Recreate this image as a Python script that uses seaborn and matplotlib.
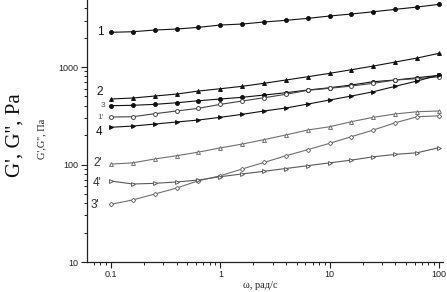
import numpy as np
import pandas as pd
import seaborn as sns
import matplotlib
matplotlib.use("Agg")
import matplotlib.pyplot as plt
from matplotlib.ticker import LogLocator, NullFormatter, FixedLocator, FixedFormatter

# frequencies, rad/s
omega = [0.1, 0.158, 0.251, 0.398, 0.631, 1.0, 1.58, 2.51, 3.98, 6.31,
         10.0, 15.8, 25.1, 39.8, 63.1, 100.0]

s1 = [2270, 2302, 2395, 2453, 2553, 2697, 2760, 2896, 3013, 3158, 3336, 3499, 3690, 3906, 4123, 4397]
s2 = [470, 481, 504, 528, 567, 599, 634, 681, 736, 795, 862, 938, 1024, 1125, 1237, 1382]
s3 = [401, 405, 414, 430, 451, 470, 489, 516, 545, 581, 613, 654, 707, 736, 777, 822]
s1p = [307, 309, 332, 354, 377, 414, 448, 484, 525, 577, 605, 638, 681, 736, 759, 795]
s4 = [241, 248, 260, 273, 286, 305, 327, 354, 380, 417, 459, 504, 558, 634, 719, 828]
s2p = [101, 104, 114, 123, 134, 148, 162, 180, 201, 226, 244, 275, 305, 330, 348, 354]
s3p = [39.1, 43.3, 49.8, 57.4, 68.2, 76.7, 89.9, 105, 123, 142, 165, 193, 226, 268, 309, 316]
s4p = [67.7, 63.1, 64.1, 66.2, 69.3, 75.0, 80.0, 85.2, 91.0, 97.3, 104, 111, 120, 127, 132, 149]

series_names = ["1", "2", "3", "1'", "4", "2'", "3'", "4'"]
series_vals = [s1, s2, s3, s1p, s4, s2p, s3p, s4p]

x_ticks = [0.1, 1, 10, 100]
x_ticklabels = ["0.1", "1", "10", "100"]
y_ticks = [10, 100, 1000]
y_ticklabels = ["10", "100", "1000"]

sns.set_theme(style="white")
plt.rcParams['font.family'] = ['Liberation Sans', 'DejaVu Sans']

W, H = 447, 292
fig = plt.figure(figsize=(W / 100, H / 100), dpi=100)
ax = fig.add_axes([87 / W, 30 / H, 356 / W, 262 / H])

styles = {
    "1":  dict(marker="o", color="#111111", mfc="#111111", mec="#111111"),
    "2":  dict(marker="^", color="#111111", mfc="#111111", mec="#111111"),
    "3":  dict(marker="o", color="#111111", mfc="#111111", mec="#111111"),
    "1'": dict(marker="o", color="#444444", mfc="white", mec="#444444"),
    "4":  dict(marker=">", color="#111111", mfc="#111111", mec="#111111"),
    "2'": dict(marker="^", color="#707070", mfc="white", mec="#707070"),
    "3'": dict(marker="D", color="#707070", mfc="white", mec="#707070"),
    "4'": dict(marker=">", color="#5a5a5a", mfc="white", mec="#5a5a5a"),
}

for name, vals in zip(series_names, series_vals):
    st = styles[name]
    df = pd.DataFrame({"omega": omega, "G": vals})
    ms = 2.8 if st["marker"] != "D" else 2.3
    sns.lineplot(data=df, x="omega", y="G", ax=ax, color=st["color"], lw=0.8,
                 marker=st["marker"], markersize=ms, markerfacecolor=st["mfc"],
                 markeredgecolor=st["mec"], markeredgewidth=0.7, legend=False)

ax.set_xscale("log")
ax.set_yscale("log")
ax.set_xlim(0.0603, 108.8)
ax.set_ylim(10, 4870)

ax.xaxis.set_major_locator(FixedLocator(x_ticks))
ax.xaxis.set_major_formatter(FixedFormatter(x_ticklabels))
ax.yaxis.set_major_locator(FixedLocator(y_ticks))
ax.yaxis.set_major_formatter(FixedFormatter(y_ticklabels))
ax.xaxis.set_minor_locator(LogLocator(base=10, subs=np.arange(2, 10)))
ax.yaxis.set_minor_locator(LogLocator(base=10, subs=np.arange(2, 10)))
ax.xaxis.set_minor_formatter(NullFormatter())
ax.yaxis.set_minor_formatter(NullFormatter())

for s in ["top", "right"]:
    ax.spines[s].set_visible(False)
for s in ["left", "bottom"]:
    ax.spines[s].set_color("#222222")
    ax.spines[s].set_linewidth(0.9)

ax.tick_params(axis="both", which="major", direction="out", length=4, width=0.8,
               color="#222222", labelsize=6.5, labelcolor="#222222", pad=2,
               left=True, bottom=True)
ax.tick_params(axis="both", which="minor", direction="out", length=2.2, width=0.7,
               color="#222222", left=True, bottom=True)

ax.set_xlabel("")
ax.set_ylabel("")

# curve labels (offsets in pixels from first point)
label_specs = {
    "1":  (-7, 0, 8.5, "#111111"),
    "2":  (-8, 7, 8.5, "#111111"),
    "3":  (-6, 0, 6, "#555555"),
    "1'": (-7, 0, 6, "#555555"),
    "4":  (-9, -5, 8.5, "#111111"),
    "2'": (-9, 1, 8.5, "#333333"),
    "4'": (-10, -2, 8.5, "#333333"),
    "3'": (-12, -1, 8.5, "#333333"),
}
for name, vals in zip(series_names, series_vals):
    dx, dy, fs, c = label_specs[name]
    ax.annotate(name, xy=(omega[0], vals[0]), xycoords="data",
                xytext=(dx, dy), textcoords="offset pixels",
                ha="right", va="center", fontsize=fs, color=c)

# axis titles
fig.text(15 / W, 1 - 135 / H, "G', G'', Pa", rotation=90, ha="center", va="center",
         fontsize=15, family=["Liberation Serif", "DejaVu Serif"], color="#111111")
fig.text(42 / W, 1 - 139 / H, "G',G'', Па", rotation=90, ha="center", va="center",
         fontsize=7.5, family=["Liberation Serif", "DejaVu Serif"], color="#222222")
fig.text(260 / W, 1 - 285 / H, "ω, рад/с", ha="center", va="center",
         fontsize=7.5, family=["Liberation Serif", "DejaVu Serif"], color="#222222")

fig.savefig("out.png", dpi=100)
